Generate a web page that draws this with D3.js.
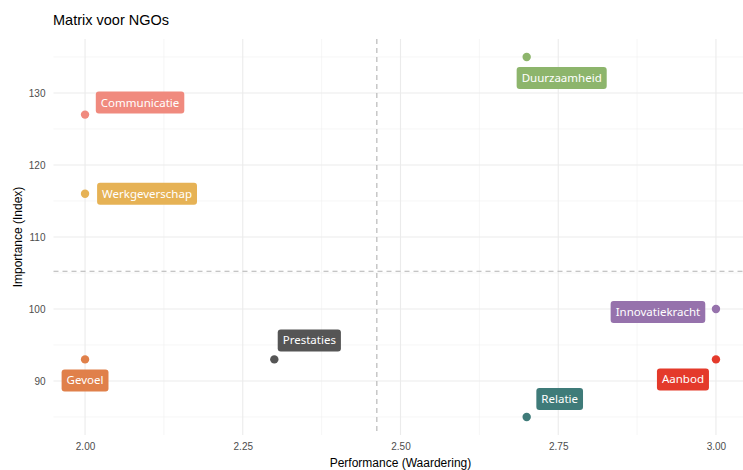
<!DOCTYPE html>
<html>
<head>
<meta charset="utf-8">
<script src="https://cdn.jsdelivr.net/npm/d3@7"></script>
<style>
  html, body { margin: 0; padding: 0; background: #fff; }
  svg { display: block; }
</style>
</head>
<body>
<svg id="chart" width="743" height="470"></svg>
<script>
// Driver scores for NGOs: performance (rating) vs importance (index)
const drivers = ["Communicatie", "Werkgeverschap", "Gevoel", "Prestaties", "Duurzaamheid", "Relatie", "Innovatiekracht", "Aanbod"];
const performance = [2.0, 2.0, 2.0, 2.3, 2.7, 2.7, 3.0, 3.0];
const importance = [127, 116, 93, 93, 135, 85, 100, 93];
const driverColors = ["#F08A7E", "#E6B255", "#E0804A", "#555555", "#8DB56C", "#3F7B79", "#9672AC", "#E43A2B"];

const xTicks = [2.00, 2.25, 2.50, 2.75, 3.00];
const yTicks = [90, 100, 110, 120, 130];

const title = "Matrix voor NGOs";
const xTitle = "Performance (Waardering)";
const yTitle = "Importance (Index)";

// label placement relative to its point (pixels), as a repelled label would sit
const labelShift = {
  Communicatie: [55, -12],
  Werkgeverschap: [62, 0],
  Gevoel: [0, 21],
  Prestaties: [35, -19],
  Duurzaamheid: [35, 21],
  Relatie: [33, -18],
  Innovatiekracht: [-58, 3],
  Aanbod: [-33, 20]
};

const data = drivers.map((d, i) => ({
  name: d, x: performance[i], y: importance[i], color: driverColors[i]
}));

const svg = d3.select("#chart");
const W = 743, H = 470;

// ggplot-style 5% expansion around the data range
const xExt = d3.extent(performance), yExt = d3.extent(importance);
const xPad = (xExt[1] - xExt[0]) * 0.05, yPad = (yExt[1] - yExt[0]) * 0.05;
const panel = { left: 53.5, right: 747.5, top: 39, bottom: 435 };

const x = d3.scaleLinear().domain([xExt[0] - xPad, xExt[1] + xPad]).range([panel.left, panel.right]);
const y = d3.scaleLinear().domain([yExt[0] - yPad, yExt[1] + yPad]).range([panel.bottom, panel.top]);

const g = svg.append("g");

// minor grid
const xMinor = d3.range(xTicks.length - 1).map(i => (xTicks[i] + xTicks[i + 1]) / 2);
const yMinor = [yTicks[0] - 5].concat(yTicks.map(t => t + 5));
g.append("g").selectAll("line").data(xMinor).join("line")
  .attr("x1", d => x(d)).attr("x2", d => x(d))
  .attr("y1", panel.top).attr("y2", panel.bottom)
  .attr("stroke", "#f0f0f0").attr("stroke-width", 0.6);
g.append("g").selectAll("line").data(yMinor.filter(v => y(v) >= panel.top && y(v) <= panel.bottom)).join("line")
  .attr("x1", panel.left).attr("x2", W)
  .attr("y1", d => y(d)).attr("y2", d => y(d))
  .attr("stroke", "#f0f0f0").attr("stroke-width", 0.6);

// major grid
g.append("g").selectAll("line").data(xTicks).join("line")
  .attr("x1", d => x(d)).attr("x2", d => x(d))
  .attr("y1", panel.top).attr("y2", panel.bottom)
  .attr("stroke", "#ebebeb").attr("stroke-width", 1.1);
g.append("g").selectAll("line").data(yTicks).join("line")
  .attr("x1", panel.left).attr("x2", W)
  .attr("y1", d => y(d)).attr("y2", d => y(d))
  .attr("stroke", "#ebebeb").attr("stroke-width", 1.1);

// axes (text only, theme_minimal look)
const xAxis = d3.axisBottom(x).tickValues(xTicks).tickFormat(d3.format(".2f")).tickSize(0).tickPadding(8);
const yAxis = d3.axisLeft(y).tickValues(yTicks).tickSize(0).tickPadding(8);
const ax = g.append("g").attr("transform", `translate(0,${panel.bottom})`).call(xAxis);
const ay = g.append("g").attr("transform", `translate(${panel.left},0)`).call(yAxis);
[ax, ay].forEach(a => {
  a.select(".domain").remove();
  a.selectAll("text").attr("fill", "#4d4d4d").style("font-family", "'Liberation Sans', Arial, sans-serif").style("font-size", "10px");
});

// mean reference lines
const meanX = d3.mean(performance), meanY = d3.mean(importance);
g.append("line")
  .attr("x1", x(meanX)).attr("x2", x(meanX)).attr("y1", panel.top).attr("y2", panel.bottom)
  .attr("stroke", "#b3b3b3").attr("stroke-width", 1.1).attr("stroke-dasharray", "5,4");
g.append("line")
  .attr("x1", panel.left).attr("x2", W).attr("y1", y(meanY)).attr("y2", y(meanY))
  .attr("stroke", "#b3b3b3").attr("stroke-width", 1.1).attr("stroke-dasharray", "5,4");

// points
g.append("g").selectAll("circle").data(data).join("circle")
  .attr("cx", d => x(d.x)).attr("cy", d => y(d.y)).attr("r", 4.2)
  .attr("fill", d => d.color);

// labels
const labelFont = "'Noto Sans', 'Open Sans', sans-serif";
const labels = g.append("g").selectAll("g").data(data).join("g")
  .attr("transform", d => {
    const s = labelShift[d.name];
    return `translate(${x(d.x) + s[0]},${y(d.y) + s[1]})`;
  });
labels.append("text")
  .attr("text-anchor", "middle").attr("dy", "0.35em")
  .attr("fill", "#fff")
  .style("font-family", labelFont).style("font-size", "11.5px")
  .text(d => d.name);
labels.each(function(d) {
  const grp = d3.select(this);
  const bb = grp.select("text").node().getBBox();
  const padX = 5, h = 22;
  grp.insert("rect", "text")
    .attr("x", bb.x - padX).attr("y", -h / 2)
    .attr("width", bb.width + 2 * padX).attr("height", h)
    .attr("rx", 3).attr("fill", d.color);
});

// titles
svg.append("text").attr("x", 53).attr("y", 25)
  .style("font-family", "'Liberation Sans', Arial, sans-serif").style("font-size", "14.5px")
  .attr("fill", "#000").text(title);
svg.append("text").attr("x", x(2.5)).attr("y", 467).attr("text-anchor", "middle")
  .style("font-family", "'Liberation Sans', Arial, sans-serif").style("font-size", "12px")
  .attr("fill", "#000").text(xTitle);
svg.append("text").attr("transform", `translate(22,${(panel.top + panel.bottom) / 2}) rotate(-90)`)
  .attr("text-anchor", "middle")
  .style("font-family", "'Liberation Sans', Arial, sans-serif").style("font-size", "12px")
  .attr("fill", "#000").text(yTitle);
</script>
</body>
</html>
